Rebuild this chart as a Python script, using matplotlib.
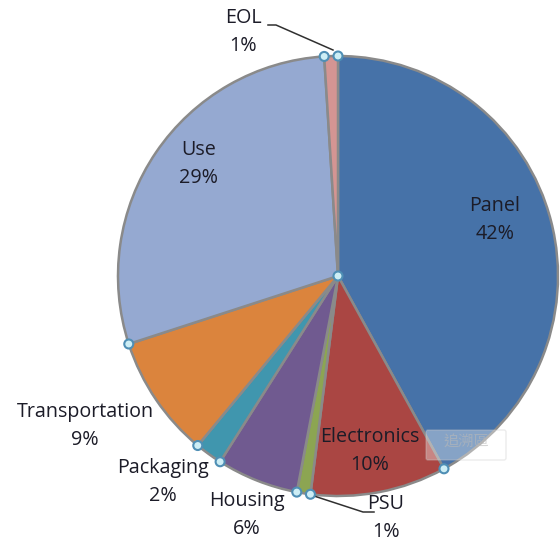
import numpy as np
import matplotlib
matplotlib.use('Agg')
import matplotlib.pyplot as plt
from matplotlib.patches import Circle, FancyBboxPatch

# data
labels = ['Panel', 'Electronics', 'PSU', 'Housing', 'Packaging', 'Transportation', 'Use', 'EOL']
values = [42, 10, 1, 6, 2, 9, 29, 1]
colors = ['#4672A8', '#AA4643', '#8CA552', '#705A90', '#4096AE', '#DB843D', '#95A9D1', '#D49593']

# label positions (pixels, y from top)
label_pos = [(495, 220), (370, 451), (386, 518), (247, 515), (163, 482),
             (85, 426), (199, 164), (243, 32)]

W, H = 560, 542
fig = plt.figure(figsize=(W / 100, H / 100), dpi=100)
ax = fig.add_axes([0, 0, 1, 1])

cx, cy, r = 338, H - 276, 220
wedges, _ = ax.pie(values, colors=colors, startangle=90, counterclock=False,
                   center=(cx, cy), radius=r, frame=True,
                   wedgeprops=dict(edgecolor='#8a8a8a', linewidth=1.8))
ax.set_xlim(0, W)
ax.set_ylim(0, H)
ax.axis('off')

# label text
font = ['Open Sans', 'DejaVu Sans']
for lab, v, (x, y) in zip(labels, values, label_pos):
    ax.text(x, H - y, '%s\n%d%%' % (lab, v), ha='center', va='center',
            fontsize=14.2, family=font, color='#1c1c28', linespacing=1.55)

# leader lines for small slices
ax.plot([268, 276, 333], [H - 25, H - 25, H - 50], color='#303030', lw=1.1)
ax.plot([314, 363, 374], [H - 496, H - 512, H - 512], color='#303030', lw=1.1)

# selection handles at slice boundaries
def handle(x, y):
    ax.add_patch(Circle((x, y), 4.5, facecolor='#cdeef5', edgecolor='#4f8fb5',
                        lw=1.5, zorder=10))

handle(cx, cy)
for w in wedges:
    a = np.deg2rad(w.theta1)
    handle(cx + r * np.cos(a), cy + r * np.sin(a))

# faint tooltip box
ax.add_patch(FancyBboxPatch((428, H - 458), 76, 26, boxstyle='round,pad=2',
                            facecolor='white', edgecolor='#c8c8c8', alpha=0.35,
                            lw=1, zorder=9))
ax.text(466, H - 441, '追溯區', ha='center', va='center', fontsize=11,
        family=['Noto Sans CJK TC', 'DejaVu Sans'], color='#b8b8b8', alpha=0.6, zorder=9)

fig.savefig('out.png', dpi=100)
